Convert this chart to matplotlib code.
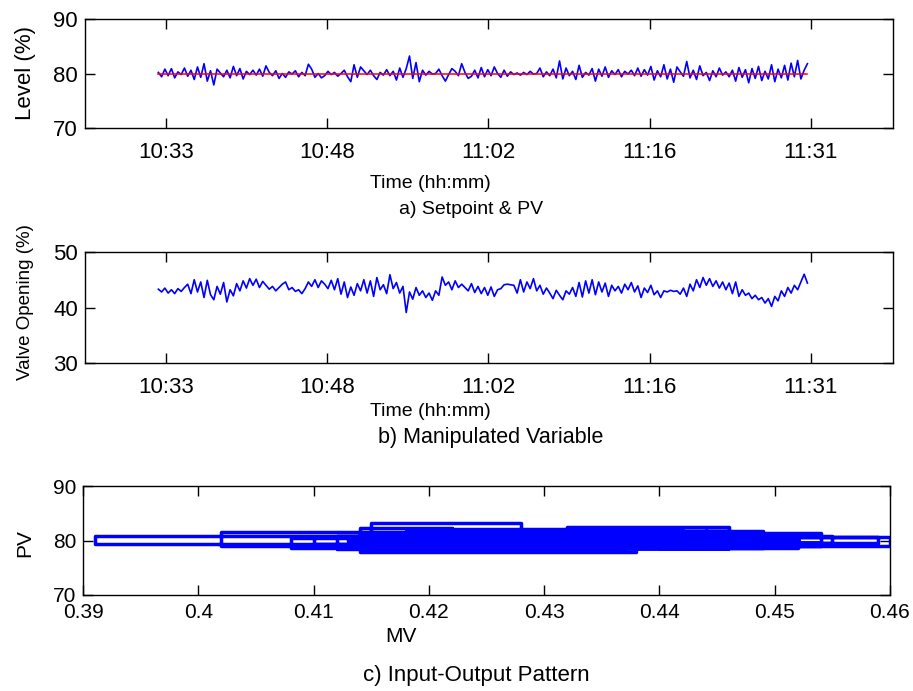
import numpy as np
import matplotlib
matplotlib.use("Agg")
import matplotlib.pyplot as plt

# ---------------- data ----------------
time_start_min = -0.7   # minutes relative to 10:33
time_end_min = 57.7
time_tick_pos = [0, 14.5, 29, 43.5, 58]
time_tick_labels = ["10:33", "10:48", "11:02", "11:16", "11:31"]

setpoint = [80.0, 80.0]

pv = [80.2, 79.4, 80.8, 79.6, 80.9, 79.2, 80.3, 79.8, 81.0, 79.5,
      80.6, 78.9, 81.2, 79.3, 81.8, 78.6, 80.5, 77.9, 80.8, 80.1,
      79.4, 80.6, 79.2, 81.3, 79.6, 80.9, 79.0, 80.4, 79.8, 80.6,
      79.7, 80.8, 79.5, 81.4, 80.2, 79.6, 80.5, 79.1, 80.0, 79.3,
      80.3, 79.9, 80.5, 79.4, 80.2, 79.6, 81.7, 80.8, 79.3, 80.0,
      79.2, 79.6, 80.4, 79.8, 80.2, 79.5, 80.0, 80.6, 79.4, 78.5,
      81.6, 79.3, 81.2, 80.5, 79.8, 80.6, 79.6, 78.9, 80.2, 79.7,
      80.7, 79.6, 80.4, 78.8, 81.0, 79.3, 80.9, 83.2, 79.1, 82.0,
      78.5, 80.6, 79.7, 80.4, 79.9, 80.0, 80.8, 79.6, 78.6, 79.8,
      80.9, 80.4, 79.6, 81.8, 80.2, 79.1, 79.5, 80.6, 79.2, 81.1,
      79.4, 80.7, 79.6, 81.2, 80.0, 79.3, 80.6, 79.5, 80.3, 79.8,
      80.1, 79.7, 80.2, 79.8, 80.4, 79.9, 80.0, 81.0, 79.4, 80.3,
      79.6, 80.8, 79.2, 82.3, 79.0, 81.0, 79.6, 80.4, 78.9, 81.5,
      79.3, 80.2, 79.7, 80.9, 78.6, 80.8, 79.5, 81.2, 79.3, 80.5,
      79.8, 80.7, 79.4, 80.4, 79.9, 80.6, 79.6, 81.0, 79.5, 80.7,
      79.7, 81.3, 78.8, 80.5, 79.4, 81.6, 79.0, 80.8, 78.4, 81.2,
      80.3, 79.5, 82.2, 79.2, 80.6, 78.9, 81.4, 79.6, 80.2, 78.7,
      80.5, 79.4, 81.0, 79.7, 80.3, 79.4, 80.6, 78.6, 81.1, 79.3,
      80.7, 78.3, 80.9, 79.1, 81.3, 78.7, 80.4, 79.0, 81.6, 78.5,
      80.8, 79.2, 81.5, 78.8, 81.9, 79.4, 82.4, 79.0, 80.6, 81.8]

mv = [43.3, 42.8, 43.5, 42.6, 43.2, 42.5, 43.4, 42.9, 43.6,
      44.2, 42.5, 45.0, 42.8, 44.6, 41.8, 44.9, 42.3, 41.4,
      43.8, 42.4, 44.5, 41.0, 43.2, 42.1, 44.3, 43.0, 44.8,
      43.5, 45.2, 44.0, 45.1, 43.6, 44.7, 44.0, 43.3, 43.8,
      43.0, 43.6, 44.2, 44.6, 43.2, 43.6, 42.9, 43.2, 42.5,
      43.4, 44.6, 43.8, 45.0, 43.6, 44.8, 44.2, 43.4, 44.9,
      43.2, 45.2, 42.4, 44.6, 41.8, 43.7, 42.2, 44.3, 43.0,
      45.0, 42.6, 44.8, 42.0, 45.4, 43.2, 44.1, 42.5, 45.9,
      43.4, 44.5, 42.6, 43.8, 39.1, 42.8, 41.5, 43.6, 42.2,
      43.0, 41.8, 42.6, 41.3, 43.0, 42.2, 45.5, 44.0, 44.6,
      43.2, 44.8, 43.6, 44.2, 43.6, 43.0, 44.3, 42.7, 43.8,
      42.5, 43.6, 42.2, 43.7, 42.0, 43.2, 43.4, 44.1, 44.2,
      44.1, 44.0, 42.6, 45.0, 42.8, 44.6, 43.4, 45.2, 43.0,
      44.0, 42.4, 43.5, 42.6, 41.6, 43.1, 42.2, 41.4, 43.0,
      42.4, 43.6, 42.0, 44.5, 41.9, 44.8, 42.6, 45.0, 42.3,
      44.6, 42.8, 44.4, 42.0, 44.0, 43.0, 43.8, 42.6, 44.2,
      43.2, 44.5, 42.8, 43.9, 41.8, 43.5, 42.7, 44.0, 42.3,
      43.0, 41.8, 43.0, 42.8, 43.1, 42.9, 43.0, 42.4, 43.5,
      42.0, 44.2, 43.0, 45.0, 43.6, 45.4, 44.0, 45.2, 43.8,
      44.8, 43.5, 44.6, 43.2, 44.4, 42.5, 44.6, 42.0, 43.2,
      42.2, 42.6, 41.6, 42.2, 41.4, 41.8, 40.8, 41.6, 40.2,
      42.0, 41.2, 43.0, 42.0, 43.6, 42.6, 44.0, 43.2, 44.6, 46.0, 44.4]

mv_ticks = [0.39, 0.40, 0.41, 0.42, 0.43, 0.44, 0.45, 0.46]
mv_tick_labels = ["0.39", "0.4", "0.41", "0.42", "0.43", "0.44", "0.45", "0.46"]

# ---------------- style ----------------
plt.rcParams["font.family"] = ["Liberation Sans", "DejaVu Sans"]
BLUE = (0, 0, 1)
RED = (1, 0, 0)

W, H = 913, 691
fig = plt.figure(figsize=(W / 100, H / 100), dpi=100)

def box(l, t, r, b):
    return [l / W, 1 - b / H, (r - l) / W, (b - t) / H]

def style(ax, size, xpad):
    ax.tick_params(direction="in", length=7, width=1, top=True, right=True,
                   labelsize=size)
    ax.tick_params(axis="x", pad=xpad)
    ax.tick_params(axis="y", pad=5)
    for s in ax.spines.values():
        s.set_linewidth(1)

t = np.linspace(time_start_min, time_end_min, len(pv))
t_mv = np.linspace(time_start_min, time_end_min, len(mv))

# panel a
ax1 = fig.add_axes(box(85, 19, 893, 128))
ax1.plot(t, pv, color=BLUE, lw=1.2)
ax1.plot([t[0], t[-1]], setpoint, color=RED, lw=1.1)
ax1.set_xlim(-7.3, 65.4)
ax1.set_ylim(70, 90)
ax1.set_yticks([70, 80, 90])
ax1.set_xticks(time_tick_pos)
ax1.set_xticklabels(time_tick_labels)
style(ax1, 16, 10)

# panel b
ax2 = fig.add_axes(box(85, 252, 893, 363))
ax2.plot(t_mv, mv, color=BLUE, lw=1.2)
ax2.set_xlim(-7.3, 65.4)
ax2.set_ylim(30, 50)
ax2.set_yticks([30, 40, 50])
ax2.set_xticks(time_tick_pos)
ax2.set_xticklabels(time_tick_labels)
style(ax2, 16, 10)

# panel c
ax3 = fig.add_axes(box(83, 486, 890, 595))
ax3.plot(np.array(mv) / 100.0, pv[:len(mv)], color=BLUE, lw=2.5,
         drawstyle="steps-post")
ax3.set_xlim(0.39, 0.46)
ax3.set_ylim(70, 90)
ax3.set_yticks([70, 80, 90])
ax3.set_xticks(mv_ticks)
ax3.set_xticklabels(mv_tick_labels)
style(ax3, 15, 6)

def ftext(x, y, s, size, **kw):
    fig.text(x / W, 1 - y / H, s, fontsize=size, ha="center", va="center", **kw)

ftext(430, 183, "Time (hh:mm)", 14)
ftext(471, 210, "a) Setpoint & PV", 14)
ftext(430, 411, "Time (hh:mm)", 14)
ftext(491, 438, "b) Manipulated Variable", 15.5)
ftext(401, 637, "MV", 15)
ftext(476, 676, "c) Input-Output Pattern", 16)
ftext(25, 73, "Level (%)", 16, rotation=90)
ftext(25, 302, "Valve Opening (%)", 13.5, rotation=90)
ftext(25, 543, "PV", 15, rotation=90)

fig.savefig("out.png", dpi=100)
